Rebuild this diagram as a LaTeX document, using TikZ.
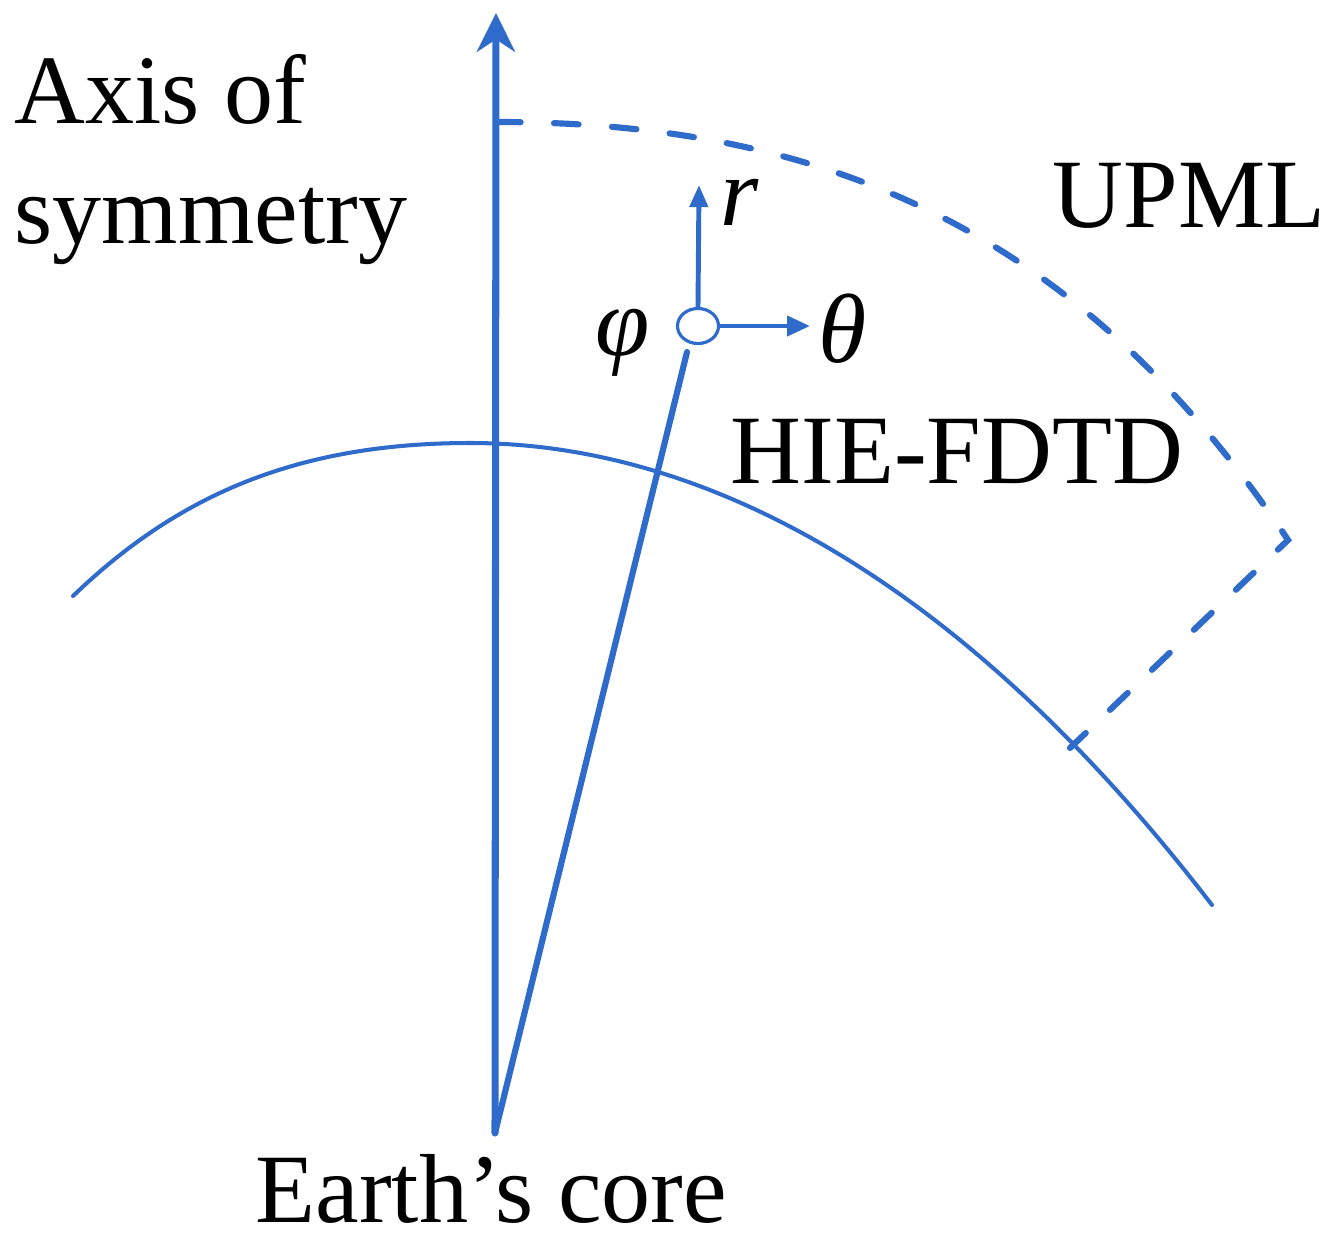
\documentclass[tikz,border=0pt]{standalone}
\usepackage{fontspec}
\setmainfont{Liberation Serif}
\usetikzlibrary{arrows.meta,shapes.geometric}
\definecolor{lineblue}{RGB}{47,107,203}
\tikzset{
  lbl/.style={inner sep=0pt, font=\fontsize{27.9}{33}\selectfont, text=black},
  glbl/.style={inner sep=0pt, font=\fontsize{27.9}{33}\selectfont\itshape, text=black},
  bline/.style={draw=lineblue},
}
\begin{document}
\begin{tikzpicture}[x=0.01cm,y=-0.01cm]
\useasboundingbox (0,0) rectangle (1336,1239);
% coordinates
\coordinate (core) at (495,1133);
\coordinate (axtop) at (496,13);
\coordinate (slanttop) at (687,352);
\coordinate (rtip) at (699,185);
\coordinate (thtip) at (810,326);
\coordinate (eL) at (73,596);
\coordinate (eTop) at (470,443);
\coordinate (eR) at (1212,905);
\coordinate (uA) at (496,122);
\coordinate (uC) at (1288,540);
\coordinate (uE) at (1070,748);
% earth surface
\draw[bline, line width=1.15pt, line cap=round] (eL) .. controls (173,500) and (290,443) .. (eTop) .. controls (640,443) and (912,515) .. (eR);
% UPML boundary
\draw[bline, line width=1.75pt, line cap=round, dash pattern=on 7pt off 9.5pt]
  (uA) .. controls (796,122) and (1068,210) .. (uC) -- (uE);
% axis of symmetry
\draw[bline, line width=2pt, line cap=round, -{Stealth[length=11pt,width=10.8pt,inset=3.5pt]}] (core) -- (axtop);
% slanted radius
\draw[bline, line width=1.75pt, line cap=round] (core) -- (slanttop);
% phi circle
\node (circ) [ellipse, draw=lineblue, line width=0.9pt, minimum width=0.41cm, minimum height=0.35cm, inner sep=0pt] at (698,326) {};
\draw[bline, line width=1.4pt, -{Triangle[length=6.3pt,width=5.1pt]}] (circ.north) -- (rtip);
\draw[bline, line width=1.35pt, -{Triangle[length=6.5pt,width=5.6pt]}] (circ.east) -- (thtip);
% labels
\node[lbl, anchor=base west] (axis1) at (14,123) {Axis of};
\node[lbl, anchor=base west] (axis2) at (14,243) {symmetry};
\node[lbl, anchor=base west] (upml) at (1052,227) {UPML};
\node[lbl, anchor=base west] (hie) at (730,483) {HIE-FDTD};
\node[lbl, anchor=base west] (earth) at (255,1222) {Earth’s core};
\node[glbl, anchor=base west] (rlab) at (720,225) {r};
\node[glbl, anchor=base west] (philab) at (595,355) {φ};
\node[glbl, anchor=base west] (thlab) at (818,362) {θ};
\end{tikzpicture}
\end{document}
